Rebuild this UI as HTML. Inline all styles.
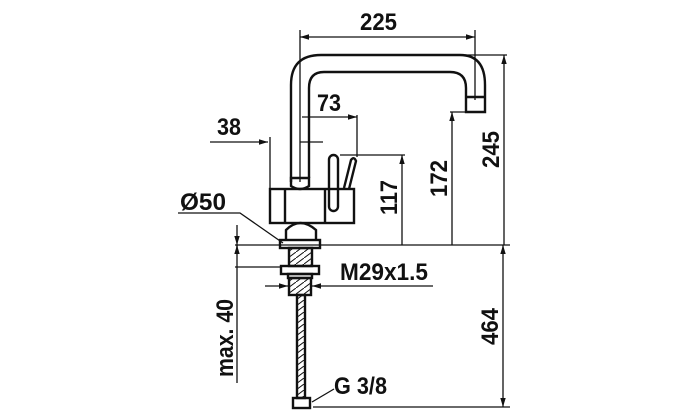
<!DOCTYPE html>
<html><head><style>
body{margin:0;background:#fff}
svg{display:block}
text{font-family:"Liberation Sans",sans-serif;font-weight:bold;fill:#111}
</style></head><body>
<svg width="685" height="420" viewBox="0 0 685 420" xmlns="http://www.w3.org/2000/svg">
<defs>
<marker id="a" viewBox="0 0 10 10" refX="10" refY="5" markerWidth="7" markerHeight="7" orient="auto-start-reverse"><path d="M0,2 L10,5 L0,8 z" fill="#111"/></marker>
<pattern id="h" width="8" height="6" patternUnits="userSpaceOnUse"><path d="M0,6 L8,0" stroke="#111" stroke-width="1"/></pattern>
</defs>
<g stroke="#111" stroke-width="1.3" fill="none">
<line x1="300" y1="30" x2="300" y2="182"/>
<line x1="475" y1="30" x2="475" y2="100"/>
<line x1="300" y1="37" x2="475" y2="37" marker-start="url(#a)" marker-end="url(#a)"/>
<g stroke-width="2.4">
<path d="M291,182 L291,85 Q291,55 321,55 L460,55 Q485,55 485,85 L485,112 L466,112 L466,88 Q466,72 450,72 L324,72 Q309,72 309,88 L309,178"/>
<line x1="466" y1="97" x2="485" y2="97"/>
<path d="M291,178 L291,186 Q300,192 309,186 L309,178 Z"/>
<rect x="270" y="189" width="84" height="34"/>
<line x1="285" y1="189" x2="285" y2="223"/>
<line x1="325" y1="189" x2="325" y2="223"/>
<rect x="329" y="155" width="9" height="56" rx="4.5"/>
<path d="M344,188 L351,160 Q354,156 356,161 L349,189"/>
<path d="M286,241 L286,230 Q300,216 316,230 L316,241"/>
<rect x="280" y="240" width="40" height="8"/>
<rect x="289" y="248" width="23" height="18" fill="url(#h)"/>
<rect x="281" y="266" width="38" height="8"/>
<rect x="288" y="274" width="24" height="4"/>
<rect x="289" y="278" width="22" height="17" fill="url(#h)"/>
<rect x="297" y="295" width="8" height="103" fill="url(#h)"/>
<rect x="293" y="398" width="17" height="10"/>
</g>
<line x1="302" y1="117" x2="357" y2="117" marker-end="url(#a)"/>
<line x1="357" y1="115" x2="357" y2="157"/>
<line x1="210" y1="142" x2="268" y2="142" marker-end="url(#a)"/>
<line x1="270" y1="137" x2="270" y2="189"/>
<line x1="300" y1="142" x2="323" y2="142"/>
<line x1="340" y1="155" x2="405" y2="155"/>
<line x1="402" y1="155" x2="402" y2="245" marker-start="url(#a)"/>
<line x1="450" y1="112" x2="470" y2="112"/>
<line x1="452" y1="112" x2="452" y2="245" marker-start="url(#a)"/>
<line x1="465" y1="55" x2="507" y2="55"/>
<line x1="504" y1="55" x2="504" y2="245" marker-start="url(#a)"/>
<line x1="235" y1="245" x2="510" y2="245"/>
<path d="M178,213 L240,213 L283,243"/>
<line x1="237" y1="225" x2="237" y2="245" marker-end="url(#a)"/>
<line x1="237" y1="245" x2="237" y2="383"/>
<line x1="237" y1="248" x2="237" y2="245" marker-end="url(#a)"/>
<line x1="235" y1="267" x2="280" y2="267"/>
<line x1="265" y1="286" x2="288" y2="286" marker-end="url(#a)"/>
<line x1="433" y1="286" x2="312" y2="286" marker-end="url(#a)"/>
<line x1="503" y1="245" x2="503" y2="407" marker-start="url(#a)" marker-end="url(#a)"/>
<line x1="313" y1="407" x2="510" y2="407"/>
<line x1="312" y1="402" x2="334" y2="389"/>
</g>
<g font-size="24">
<text x="360" y="30" textLength="37" lengthAdjust="spacingAndGlyphs">225</text>
<text x="317" y="111" textLength="24" lengthAdjust="spacingAndGlyphs">73</text>
<text x="217" y="135" textLength="24" lengthAdjust="spacingAndGlyphs">38</text>
<text x="180" y="210" textLength="46" lengthAdjust="spacingAndGlyphs">Ø50</text>
<text x="340" y="280" textLength="88" lengthAdjust="spacingAndGlyphs">M29x1.5</text>
<text x="334" y="394" textLength="53" lengthAdjust="spacingAndGlyphs">G 3/8</text>
<text transform="translate(397,215) rotate(-90)" textLength="35" lengthAdjust="spacingAndGlyphs">117</text>
<text transform="translate(447,197) rotate(-90)" textLength="37" lengthAdjust="spacingAndGlyphs">172</text>
<text transform="translate(499,168) rotate(-90)" textLength="37" lengthAdjust="spacingAndGlyphs">245</text>
<text transform="translate(498,345) rotate(-90)" textLength="37" lengthAdjust="spacingAndGlyphs">464</text>
<text transform="translate(233,377) rotate(-90)" textLength="78" lengthAdjust="spacingAndGlyphs">max. 40</text>
</g>
</svg>
</body></html>
